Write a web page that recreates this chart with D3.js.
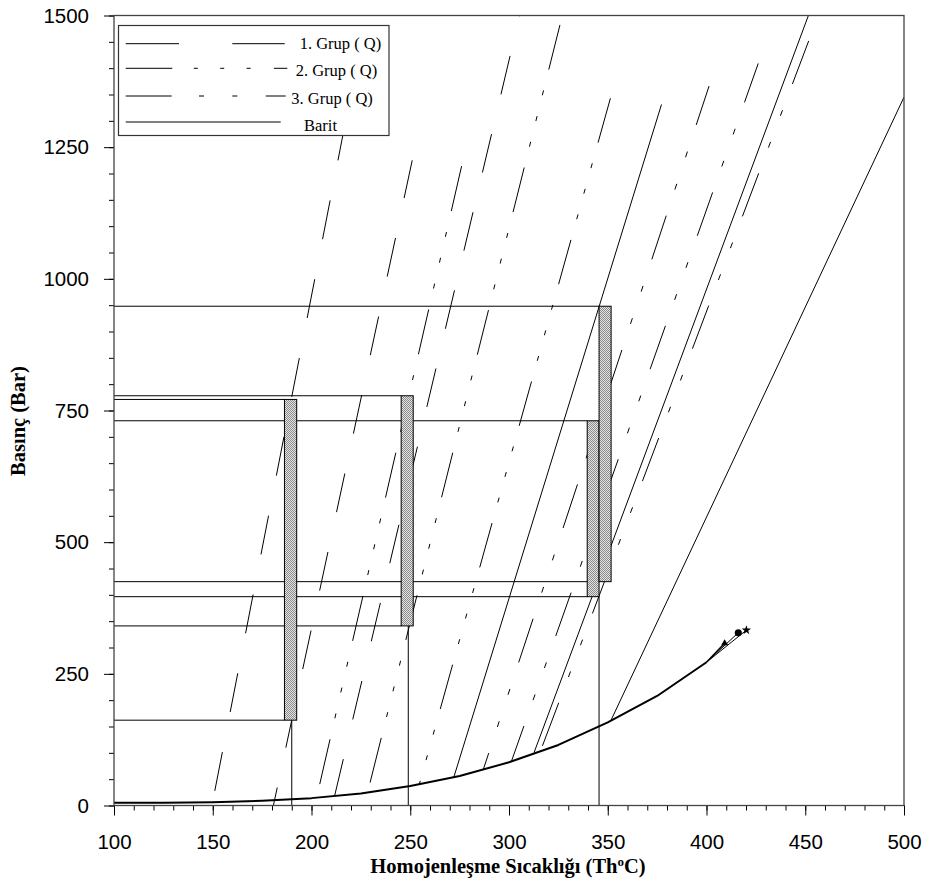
<!DOCTYPE html>
<html>
<head>
<meta charset="utf-8">
<script src="https://cdn.jsdelivr.net/npm/d3@7"></script>
<style>
  body { margin: 0; background: #fff; }
  svg { display: block; }
</style>
</head>
<body>
<svg id="chart" width="926" height="883"></svg>
<script>
// ---------------- data ----------------
const xTicks = [100, 150, 200, 250, 300, 350, 400, 450, 500];
const yTicks = [0, 250, 500, 750, 1000, 1250, 1500];

// liquid-vapour curve (Th °C, P bar)
const boilT = [100, 125, 150, 175, 200, 225, 250, 275, 300, 325, 350, 375, 400];
const boilP = [5, 5, 6, 9, 14, 23, 37, 56, 82, 115, 158, 208, 272];

// critical points closing the curve
const critT = [409.2, 416.1, 420.2];
const critP = [308, 328, 333];
const critSymbol = ["triangle", "circle", "star"];

// isochores: start and end points [T °C, P bar]
const grup1Start = [[149.9, 6], [180.7, 0], [211.7, 18.2]];
const grup1End   = [[217.3, 1300], [251.0, 1225], [305.4, 1500]];
const grup2Start = [[202.6, 14.9], [228.4, 24.7], [254.6, 40.5]];
const grup2End   = [[276.0, 1214], [327.0, 1500], [351.5, 1345]];
const grup3Start = [[287.0, 68.5], [301.2, 83.6], [315.9, 103]];
const grup3End   = [[401.3, 1366], [426.2, 1409], [456.6, 1500]];
const baritStart = [[272.0, 53], [312.7, 100.6], [351.5, 160.6]];
const baritEnd   = [[377.2, 1331], [451.6, 1500], [500.0, 1345]];

// pressure / Th ranges of the inclusion groups
const barThMin = [186.3, 245.4, 339.6, 345.6];
const barThMax = [192.5, 251.5, 345.6, 351.7];
const barPMin  = [162, 341, 396.5, 425];
const barPMax  = [771, 778, 730.5, 948];

// pressure levels traced back to the P axis, and the Th each one reaches
const levelP = [948, 778, 771, 730.5, 425, 396.5, 341, 162];
const levelT = [345.6, 245.4, 186.3, 339.6, 345.6, 339.6, 245.4, 186.3];

// Th values dropped to the temperature axis, from the bottom of each range
const dropT = [190, 249, 345.6];
const dropP = [162, 341, 396.5];

const legendLabels = ["1. Grup ( Q)", "2. Grup ( Q)", "3. Grup ( Q)", "Barit"];

// ---------------- styles ----------------
const plotDash = ["39.5 40.8", "46 21.5 5 21.5 5 21.5 5 21.5", "46 27.5 6 28 6 28", null];
const plotDashPhase = [[68.6, 21.1, 1.7], [133.1, 136.7, 69], [28.8, 8.4, 135.7], [0, 0, 0]];
const legendDash = ["53.3 53.3", "46.6 21.5 4 22.4 4 22.4 4 23.3", "46 27.3 5 28.3 5 28.4", null];

const serif = "'Liberation Serif', 'Times New Roman', serif";
const sans = "'Liberation Sans', Arial, sans-serif";

// ---------------- layout ----------------
const plot = { left: 114, right: 904, top: 15.5, bottom: 805.5 };
const x = d3.scaleLinear().domain([100, 500]).range([plot.left, plot.right]);
const y = d3.scaleLinear().domain([0, 1500]).range([plot.bottom, plot.top]);

const svg = d3.select("#chart");
const defs = svg.append("defs");
defs.append("clipPath").attr("id", "plotClip")
  .append("rect")
  .attr("x", plot.left).attr("y", plot.top)
  .attr("width", plot.right - plot.left).attr("height", plot.bottom - plot.top);

// fine grey stipple used inside the range bars
const hatch = defs.append("pattern").attr("id", "stipple")
  .attr("patternUnits", "userSpaceOnUse").attr("width", 2).attr("height", 2);
hatch.append("rect").attr("width", 2).attr("height", 2).attr("fill", "#e4e4e4");
hatch.append("rect").attr("width", 1).attr("height", 1).attr("fill", "#8a8a8a");
hatch.append("rect").attr("x", 1).attr("y", 1).attr("width", 1).attr("height", 1).attr("fill", "#8a8a8a");

const body = svg.append("g").attr("clip-path", "url(#plotClip)");

// horizontal pressure levels
body.append("g").selectAll("line")
  .data(levelP.map((p, i) => ({ p, t: levelT[i] })))
  .join("line")
  .attr("x1", x(100)).attr("x2", d => x(d.t))
  .attr("y1", d => y(d.p)).attr("y2", d => y(d.p))
  .attr("stroke", "#000").attr("stroke-width", 1);

// vertical Th drops
body.append("g").selectAll("line")
  .data(dropT.map((t, i) => ({ t, p: dropP[i] })))
  .join("line")
  .attr("x1", d => x(d.t)).attr("x2", d => x(d.t))
  .attr("y1", d => y(d.p)).attr("y2", y(0))
  .attr("stroke", "#000").attr("stroke-width", 1);

// isochores
const isoGroups = [
  [grup1Start, grup1End],
  [grup2Start, grup2End],
  [grup3Start, grup3End],
  [baritStart, baritEnd]
];
const segLine = d3.line().x(d => x(d[0])).y(d => y(d[1]));
isoGroups.forEach(([starts, ends], g) => {
  body.append("g").selectAll("path")
    .data(starts.map((s, i) => [s, ends[i]]))
    .join("path")
    .attr("d", segLine)
    .attr("fill", "none")
    .attr("stroke", "#000")
    .attr("stroke-width", 1)
    .attr("stroke-dasharray", plotDash[g])
    .attr("stroke-dashoffset", (d, i) => plotDashPhase[g][i]);
});

// liquid-vapour curve
const boil = boilT.map((t, i) => [t, boilP[i]]);
body.append("path")
  .attr("d", segLine(boil))
  .attr("fill", "none").attr("stroke", "#000").attr("stroke-width", 2)
  .attr("stroke-linejoin", "round");

const lastBoil = boil[boil.length - 1];
body.append("g").selectAll("line")
  .data(critT.map((t, i) => [t, critP[i]]))
  .join("line")
  .attr("x1", x(lastBoil[0])).attr("y1", y(lastBoil[1]))
  .attr("x2", d => x(d[0])).attr("y2", d => y(d[1]))
  .attr("stroke", "#000").attr("stroke-width", (d, i) => i === 0 ? 1.6 : 1);

const symbolType = { triangle: d3.symbolTriangle, circle: d3.symbolCircle, star: d3.symbolStar };
const symbolSize = { triangle: 22, circle: 40, star: 28 };
body.append("g").selectAll("path")
  .data(critT.map((t, i) => ({ t, p: critP[i], s: critSymbol[i] })))
  .join("path")
  .attr("transform", d => `translate(${x(d.t)},${y(d.p)})`)
  .attr("d", d => d3.symbol(symbolType[d.s], symbolSize[d.s])())
  .attr("fill", "#000");

// range bars
body.append("g").selectAll("rect")
  .data(barThMin.map((t, i) => ({ t0: t, t1: barThMax[i], p0: barPMin[i], p1: barPMax[i] })))
  .join("rect")
  .attr("x", d => x(d.t0)).attr("width", d => x(d.t1) - x(d.t0))
  .attr("y", d => y(d.p1)).attr("height", d => y(d.p0) - y(d.p1))
  .attr("fill", "url(#stipple)")
  .attr("stroke", "#000").attr("stroke-width", 1);

// legend
const legend = svg.append("g");
legend.append("rect")
  .attr("x", 118.5).attr("y", 25.5).attr("width", 270.5).attr("height", 110)
  .attr("fill", "#fff").attr("stroke", "#333").attr("stroke-width", 1.2);
const legendRowY = [43.7, 68.3, 96, 122];
const legendLineEnd = [284.7, 287.3, 285.7, 280.7];
const legendTextX = [299.7, 295.7, 291.3, 304];
const legendTextY = [48.6, 76.4, 104, 130.5];
legendLabels.forEach((label, i) => {
  legend.append("line")
    .attr("x1", 125.7).attr("x2", legendLineEnd[i])
    .attr("y1", legendRowY[i]).attr("y2", legendRowY[i])
    .attr("stroke", "#000").attr("stroke-width", 1)
    .attr("stroke-dasharray", legendDash[i]);
  legend.append("text")
    .attr("x", legendTextX[i]).attr("y", legendTextY[i])
    .attr("font-family", serif).attr("font-size", 16.5)
    .attr("fill", "#000")
    .text(label);
});

// axes
function styleAxis(g) {
  g.select(".domain").remove();
  g.selectAll(".tick line").attr("stroke", "#000").attr("stroke-width", 1);
  g.selectAll(".tick text").attr("font-family", sans).attr("font-size", 20.5).attr("fill", "#000");
}
svg.append("g").attr("transform", `translate(0,${plot.bottom})`)
  .call(d3.axisBottom(x).tickValues(x.ticks(40)).tickSize(5).tickFormat(""))
  .call(styleAxis);
svg.append("g").attr("transform", `translate(0,${plot.bottom})`)
  .call(d3.axisBottom(x).tickValues(xTicks).tickSize(10).tickPadding(19).tickFormat(d3.format("d")))
  .call(styleAxis);
svg.append("g").attr("transform", `translate(${plot.left},0)`)
  .call(d3.axisLeft(y).tickValues(y.ticks(30)).tickSize(5).tickFormat(""))
  .call(styleAxis);
svg.append("g").attr("transform", `translate(${plot.left},0)`)
  .call(d3.axisLeft(y).tickValues(yTicks).tickSize(10).tickPadding(15).tickFormat(d3.format("d")))
  .call(styleAxis);

// frame
svg.append("rect")
  .attr("x", plot.left).attr("y", plot.top)
  .attr("width", plot.right - plot.left).attr("height", plot.bottom - plot.top)
  .attr("fill", "none").attr("stroke", "#444").attr("stroke-width", 1.3);

// axis titles
const xTitle = svg.append("text")
  .attr("x", 508).attr("y", 873)
  .attr("text-anchor", "middle")
  .attr("font-family", serif).attr("font-size", 20.5).attr("font-weight", "bold")
  .attr("fill", "#000");
xTitle.append("tspan").text("Homojenleşme Sıcaklığı (Th");
xTitle.append("tspan").attr("font-size", 13).attr("dy", -7).text("o");
xTitle.append("tspan").attr("dy", 7).text("C)");

svg.append("text")
  .attr("transform", `translate(25,421) rotate(-90)`)
  .attr("text-anchor", "middle")
  .attr("font-family", serif).attr("font-size", 20.5).attr("font-weight", "bold")
  .attr("fill", "#000")
  .text("Basınç (Bar)");
</script>
</body>
</html>
